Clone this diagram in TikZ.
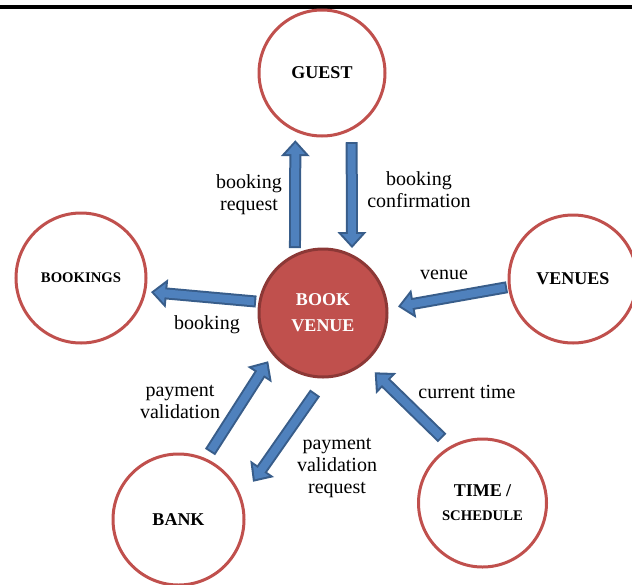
\documentclass[tikz,border=0pt]{standalone}
\usepackage{fontspec}
\setmainfont{Liberation Serif}
\usetikzlibrary{arrows.meta}
\definecolor{CtxRed}{HTML}{C0504D}
\definecolor{CtxRedDark}{HTML}{8C3836}
\definecolor{CtxBlue}{HTML}{4F81BD}
\definecolor{CtxBlueDark}{HTML}{385D8A}
\tikzset{
  entity/.style={circle,draw=CtxRed,line width=3pt,minimum size=#1,inner sep=0pt,outer sep=0pt,
    align=center,font=\fontsize{18}{20}\selectfont\bfseries},
  flowedge/.style 2 args={draw=CtxBlueDark,line width=12pt,-{Triangle[length=16pt,width=28pt]},
    shorten <=#1,shorten >=#2},
  flowfill/.style 2 args={draw=CtxBlue,line width=8pt,-{Triangle[length=11pt,width=19pt]},
    shorten <=#1+2pt,shorten >=#2+3pt},
  flowlabel/.style={inner sep=0pt,align=center,font=\fontsize{20}{22}\selectfont}
}
\begin{document}
\begin{tikzpicture}[x=1pt,y=-1pt]
\path[use as bounding box] (0,0) rectangle (632,584);
\draw[line width=4pt] (0,7) -- (632,7);
% circles
\node[entity=126pt] (guest) at (322,73) {GUEST};
\node[entity=128pt,fill=CtxRed,draw=CtxRedDark,text=white] (book) at (323,313) {BOOK\\[6pt]VENUE};
\node[entity=130pt,font=\fontsize{14.7}{16}\selectfont\bfseries] (bookings) at (81,278) {BOOKINGS};
\node[entity=128pt] (venues) at (573,279) {VENUES};
\node[entity=131pt] (bank) at (178.5,519.5) {BANK};
\node[entity=128pt] (time) at (482.5,503) {TIME /\\[4pt]{\fontsize{14.7}{16}\selectfont SCHEDULE}};
% arrows
\draw[flowedge={7.4pt}{10.1pt}] (book.116) -- (guest.245);
\draw[flowfill={7.4pt}{10.1pt}] (book.116) -- (guest.245);
\draw[flowedge={13.6pt}{7.9pt}] (guest.298) -- (book.63);
\draw[flowfill={13.6pt}{7.9pt}] (guest.298) -- (book.63);
\draw[flowedge={3.9pt}{6.4pt}] (book.170) -- (bookings.348);
\draw[flowfill={3.9pt}{6.4pt}] (book.170) -- (bookings.348);
\draw[flowedge={2.5pt}{11.3pt}] (venues.187) -- (book.4);
\draw[flowfill={2.5pt}{11.3pt}] (venues.187) -- (book.4);
\draw[flowedge={13pt}{14.7pt}] (time.119) -- (book.310);
\draw[flowfill={13pt}{14.7pt}] (time.119) -- (book.310);
\draw[flowedge={9.1pt}{9.4pt}] (bank.66) -- (book.219);
\draw[flowfill={9.1pt}{9.4pt}] (bank.66) -- (book.219);
\draw[flowedge={19.6pt}{21.3pt}] (book.273) -- (bank.18);
\draw[flowfill={19.6pt}{21.3pt}] (book.273) -- (bank.18);
% labels
\node[flowlabel] (lblrequest) at (249,195) {booking\\request};
\node[flowlabel] (lblconfirm) at (419,190) {booking\\confirmation};
\node[flowlabel] (lblvenue) at (444,275) {venue};
\node[flowlabel] (lblbooking) at (207,325) {booking};
\node[flowlabel] (lblvalid) at (180,402) {payment\\validation};
\node[flowlabel] (lbltime) at (467,392) {current time};
\node[flowlabel] (lblvalreq) at (337,468) {payment\\validation\\request};
\end{tikzpicture}
\end{document}
